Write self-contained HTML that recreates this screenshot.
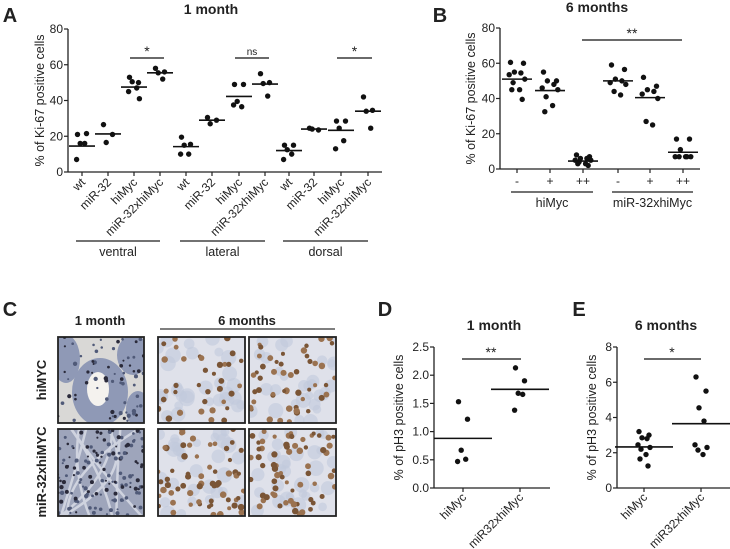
<!DOCTYPE html>
<html><head><meta charset="utf-8"><style>
body{margin:0;background:#fff;}
svg{display:block;font-family:"Liberation Sans",sans-serif;}
</style></head><body>
<svg id="fig" width="730" height="549" viewBox="0 0 730 549" xmlns="http://www.w3.org/2000/svg"></svg>
<script>
// ---- Panel A data (1 month Ki-67) ----
const aCategories = ["wt","miR-32","hiMyc","miR-32xhiMyc","wt","miR-32","hiMyc","miR-32xhiMyc","wt","miR-32","hiMyc","miR-32xhiMyc"];
const aGroups = ["ventral","lateral","dorsal"];
const aValues = [
 [21,21.5,16,16,7],[26.5,21,16.5],[53,50,50.5,47,45,41],[58,56,55.5,52],
 [19.5,15.5,15,10,10],[30.5,29,27],[49,49,39.5,36.5,37.5],[55,50,49.5,42.5],
 [15,15,12.5,10,7],[24.5,23.5,24],[28.5,28.5,24.5,17.5,13],[42,34.5,34,24.5]];
const aMeans = [14.5,21.3,47.5,55.5,14.2,29,42.3,49.2,12,24,23.3,34];
const aTicks = [0,20,40,60,80];
const aSig = [[2,3,"*"],[6,7,"ns"],[10,11,"*"]];
// ---- Panel B data (6 months Ki-67) ----
const bCategories = ["-","+","++","-","+","++"];
const bGroups = ["hiMyc","miR-32xhiMyc"];
const bValues = [
 [60.5,60,55,54.5,53.5,51,49,45,45,39.5],[55,50,50,48,46,45,41,36,32.5],[8,7,6,6,5,5,4,3,3,2],
 [59,56.5,51,50,49,48,44,42],[52,47,45,44,42.5,40,27,25],[17,17,11,7,7,7,7,7]];
const bMeans = [51,44.5,4.5,50,40.5,9.5];
const bTicks = [0,20,40,60,80];
// ---- Panel D data (1 month pH3) ----
const dCategories = ["hiMyc","miR32xhiMyc"];
const dValues = [[1.53,1.22,0.67,0.51,0.47],[2.13,1.9,1.68,1.66,1.38]];
const dMeans = [0.88,1.75];
const dTicks = ["0.0","0.5","1.0","1.5","2.0","2.5"];
// ---- Panel E data (6 months pH3) ----
const eCategories = ["hiMyc","miR32xhiMyc"];
const eValues = [[3.2,3.0,2.85,2.8,2.45,2.3,2.2,1.9,1.65,1.25],[6.3,5.5,4.55,3.8,2.45,2.3,2.15,1.9]];
const eMeans = [2.33,3.65];
const eTicks = [0,2,4,6,8];

const NS="http://www.w3.org/2000/svg";
const svg=document.getElementById('fig');
function mk(tag,attrs,parent,text){const e=document.createElementNS(NS,tag);for(const k in attrs)e.setAttribute(k,attrs[k]);if(text!==undefined)e.textContent=text;(parent||svg).appendChild(e);return e;}
function txt(x,y,s,size,opts,parent){opts=opts||{};const t=mk('text',{x:x,y:y,'font-size':size,'text-anchor':opts.anchor||'middle',fill:'#222','font-weight':opts.bold?'bold':'normal'},parent,s);if(opts.rot!==undefined)t.setAttribute('transform','rotate('+opts.rot+' '+x+' '+y+')');return t;}
const jit=[-5,5,-2,3,-6,6,-3,2,-4,4];

function scatterPanel(p){
  const g=mk('g',{});
  
  
  const y=v=>p.y0-(v-p.vmin)/(p.vmax-p.vmin)*(p.y0-p.y1);
  const x=i=>p.xs[i];
  mk('line',{x1:p.ax,y1:p.y1,x2:p.ax,y2:p.y0,stroke:'#222','stroke-width':1.3},g);
  mk('line',{x1:p.ax,y1:p.y0,x2:p.axEnd,y2:p.y0,stroke:'#222','stroke-width':1.3},g);
  p.ticks.forEach(t=>{const yy=y(parseFloat(t));mk('line',{x1:p.ax-4,y1:yy,x2:p.ax,y2:yy,stroke:'#222','stroke-width':1.2},g);
    const lb=txt(p.ax-5,yy+4,String(t),12,{anchor:'end'},g);});
  p.values.forEach((arr,i)=>{
    mk('line',{x1:x(i),y1:p.y0,x2:x(i),y2:p.y0+4,stroke:'#222','stroke-width':1.2},g);
    arr.forEach((v,j)=>{const c=mk('circle',{cx:x(i)+jit[j%jit.length]*p.js,cy:y(v),r:2.7,fill:'#111'},g);
      });
    const m=mk('line',{x1:x(i)-p.mw,y1:y(p.means[i]),x2:x(i)+p.mw,y2:y(p.means[i]),stroke:'#111','stroke-width':1.6},g);
    
  });
  const yt=txt(p.ytx,(p.y0+p.y1)/2,p.ytitle,12.5,{rot:-90},g);
  
  return {g,x,y};
}

// Panel letters & titles
[["A",10,22],["B",440,22],["C",10,316],["D",385,316],["E",579,316]].forEach(a=>{const t=txt(a[1],a[2],a[0],20,{bold:true});});
[["1 month",211,14],["6 months",597,12],["1 month",494,330],["6 months",666,330]].forEach(a=>{const t=txt(a[1],a[2],a[0],14,{bold:true});});

// Panel A
const A=scatterPanel({name:'panel-a-chart',ax:68,axEnd:382,y0:172,y1:29,vmin:0,vmax:80,ticks:aTicks,
 xs:[82,108,134,160,186,212,239,265,289,314,341,368],values:aValues,means:aMeans,mw:13,js:0.9,ytx:44,ytitle:"% of Ki-67 positive cells"});
aCategories.forEach((c,i)=>{const t=txt(A.x(i)+4,183,c,12,{anchor:'end',rot:-45},A.g);});
aGroups.forEach((gname,k)=>{const x1=A.x(k*4)-6,x2=A.x(k*4+3)+0;mk('line',{x1:x1,y1:241,x2:x2,y2:241,stroke:'#444','stroke-width':1.5},A.g);
  const t=txt((x1+x2)/2,256,gname,12.5,{},A.g);});
aSig.forEach(s=>{mk('line',{x1:A.x(s[0])-4,y1:58,x2:A.x(s[1])+4,y2:58,stroke:'#111','stroke-width':1.3},A.g);
  const t=txt((A.x(s[0])+A.x(s[1]))/2,s[2]==="ns"?55:56,s[2],s[2]==="ns"?10:14,{},A.g);});

// Panel B
const B=scatterPanel({name:'panel-b-chart',ax:500,axEnd:700,y0:169,y1:28,vmin:0,vmax:80,ticks:bTicks,
 xs:[517,550,583,618,650,683],values:bValues,means:bMeans,mw:15,js:1.3,ytx:475,ytitle:"% of Ki-67 positive cells"});
bCategories.forEach((c,i)=>{const t=txt(B.x(i),185,c,12,{},B.g);});
bGroups.forEach((gname,k)=>{const x1=B.x(k*3)-6,x2=B.x(k*3+2)+10;mk('line',{x1:x1,y1:192,x2:x2,y2:192,stroke:'#444','stroke-width':1.5},B.g);
  const t=txt((x1+x2)/2,207,gname,12.5,{},B.g);});
mk('line',{x1:582,y1:40,x2:682,y2:40,stroke:'#111','stroke-width':1.3},B.g);
{const t=txt(632,38,"**",14,{},B.g);}

// Panel D
const D=scatterPanel({name:'panel-d-chart',ax:434,axEnd:550,y0:488,y1:347,vmin:0,vmax:2.5,ticks:dTicks,
 xs:[463,520],values:dValues,means:dMeans,mw:29,js:0.9,ytx:403,ytitle:"% of pH3 positive cells"});
dCategories.forEach((c,i)=>{const t=txt(D.x(i)+4,498,c,12,{anchor:'end',rot:-45},D.g);});
mk('line',{x1:462,y1:359,x2:521,y2:359,stroke:'#111','stroke-width':1.3},D.g);
{const t=txt(491,357,"**",14,{},D.g);}

// Panel E
const E=scatterPanel({name:'panel-e-chart',ax:617,axEnd:730,y0:488,y1:347,vmin:0,vmax:8,ticks:eTicks,
 xs:[644,701],values:eValues,means:eMeans,mw:29,js:1.0,ytx:596,ytitle:"% of pH3 positive cells"});
eCategories.forEach((c,i)=>{const t=txt(E.x(i)+4,498,c,12,{anchor:'end',rot:-45},E.g);});
mk('line',{x1:644,y1:359,x2:701,y2:359,stroke:'#111','stroke-width':1.3},E.g);
{const t=txt(672,357,"*",14,{},E.g);}

// Panel C: histology micrographs (decorative textures)
const C=mk('g',{});


{let t=txt(100,325,"1 month",13,{bold:true},C);
 t=txt(247,325,"6 months",13,{bold:true},C);
 mk('line',{x1:160,y1:329,x2:335,y2:329,stroke:'#333','stroke-width':1.3},C);
 t=txt(46,380,"hiMYC",13,{bold:true,rot:-90},C);
 t=txt(46,472,"miR-32xhiMYC",13,{bold:true,rot:-90},C);}
let seed=7;function rnd(){seed=(seed*16807)%2147483647;return seed/2147483647;}
const cols=[58,158,249],rows=[337,429];
rows.forEach((ry,ri)=>cols.forEach((cx,ci)=>{
  const w=ci===0?86:87,h=ri===0?86:87;
  const im=mk('g',{},C);
  
  
  const cp='cp'+ri+ci;const cl=mk('clipPath',{id:cp},im);mk('rect',{x:cx,y:ry,width:w,height:h},cl);
  const inner=mk('g',{'clip-path':'url(#'+cp+')'},im);
  if(ci===0){
    mk('rect',{x:cx,y:ry,width:w,height:h,fill:ri===0?'#d9d8d6':'#9ea5bb'},inner);
    if(ri===0){
      mk('ellipse',{cx:cx+42,cy:ry+55,rx:28,ry:34,fill:'#8f99b6'},inner);mk('ellipse',{cx:cx+40,cy:ry+52,rx:11,ry:17,fill:'#f4f2ee'},inner);
      mk('ellipse',{cx:cx+8,cy:ry+22,rx:14,ry:24,fill:'#8f99b6'},inner);mk('ellipse',{cx:cx+75,cy:ry+18,rx:16,ry:20,fill:'#8f99b6'},inner);
      mk('ellipse',{cx:cx+80,cy:ry+72,rx:12,ry:18,fill:'#8f99b6'},inner);
    }
    else{for(let k=0;k<8;k++)mk('path',{d:'M'+(cx+rnd()*w)+' '+ry+' Q'+(cx+rnd()*w)+' '+(ry+h/2)+' '+(cx+rnd()*w)+' '+(ry+h),stroke:'#cfd3df','stroke-width':2.5,fill:'none'},inner);}
    for(let k=0;k<(ri===0?70:140);k++)mk('circle',{cx:cx+rnd()*w,cy:ry+rnd()*h,r:1+rnd()*1.2,fill:rnd()<0.5?'#2a2a3a':'#505a78'},inner);
  }else{
    mk('rect',{x:cx,y:ry,width:w,height:h,fill:'#dfe1ea'},inner);
    for(let k=0;k<30;k++)mk('circle',{cx:cx+rnd()*w,cy:ry+rnd()*h,r:4+rnd()*4,fill:'#c2c9dc',opacity:0.6},inner);
    const n=ri===0?(ci===1?35:50):65;
    for(let k=0;k<n;k++)mk('circle',{cx:cx+rnd()*w,cy:ry+rnd()*h,r:2+rnd()*1.3,fill:rnd()<0.5?'#7a5536':'#9a7250'},inner);
  }
  mk('rect',{x:cx,y:ry,width:w,height:h,fill:'none',stroke:'#222','stroke-width':1.8},im);
}));
</script>
</body></html>
